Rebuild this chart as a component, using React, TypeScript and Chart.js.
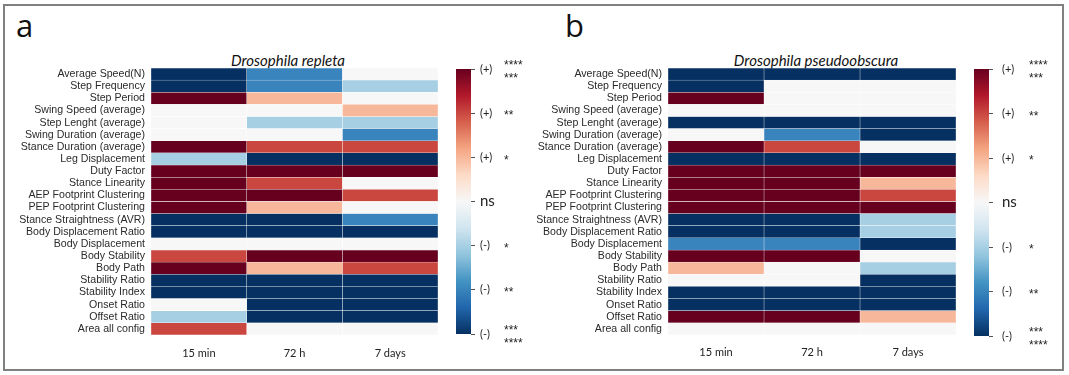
import React, { useEffect, useRef } from 'react';
import { Chart, registerables } from 'chart.js';

Chart.register(...registerables);

// ---------- data ----------
const rowLabels = [
  'Average Speed(N)', 'Step Frequency', 'Step Period', 'Swing Speed (average)',
  'Step Lenght (average)', 'Swing Duration (average)', 'Stance Duration (average)',
  'Leg Displacement', 'Duty Factor', 'Stance Linearity', 'AEP Footprint Clustering',
  'PEP Footprint Clustering', 'Stance Straightness (AVR)', 'Body Displacement Ratio',
  'Body Displacement', 'Body Stability', 'Body Path', 'Stability Ratio',
  'Stability Index', 'Onset Ratio', 'Offset Ratio', 'Area all config',
];
const timeLabels = ['15 min', '72 h', '7 days'];

// significance level: +3 = (+)***/****, +2 = (+)**, +1 = (+)*, 0 = ns, -1..-3 = (-)
const repleta15min = [-3, -3, 3, 0, 0, 0, 3, -1, 3, 3, 3, 3, -3, -3, 0, 2, 3, -3, -3, 0, -1, 2];
const repleta72h = [-2, -2, 1, 0, -1, 0, 2, -3, 3, 2, 3, 1, -3, -3, 0, 3, 1, -3, -3, -3, -3, 0];
const repleta7days = [0, -1, 0, 1, -1, -2, 2, -3, 3, 0, 2, 0, -2, -3, 0, 3, 2, -3, -3, -3, -3, 0];

const pseudo15min = [-3, -3, 3, 0, -3, 0, 3, -3, 3, 3, 3, 3, -3, -3, -2, 3, 1, 0, -3, -3, 3, 0];
const pseudo72h = [-3, 0, 0, 0, -3, -2, 2, -3, 3, 3, 3, 3, -3, -3, -2, 3, 0, 0, -3, -3, 3, 0];
const pseudo7days = [-3, 0, 0, 0, -3, -3, 0, -3, 3, 1, 2, 3, -1, -1, -3, 0, -1, -3, -3, -3, 1, 0];

const levelValues = [-3, -2, -1, 0, 1, 2, 3];
const levelLabels = ['(-)', '(-)', '(-)', 'ns', '(+)', '(+)', '(+)'];
const levelStars: (string | string[])[] = [['***', '****'], '**', '*', '', '*', '**', ['****', '***']];

const titleRepleta = 'Drosophila repleta';
const titlePseudo = 'Drosophila pseudoobscura';

// ---------- styles ----------
const levelColors = ['#053061', '#3a84bd', '#a7cfe4', '#f7f7f7', '#f7b79a', '#c9473f', '#67001f'];
const gradientStops = ['#053061', '#2166ac', '#4393c3', '#92c5de', '#d1e5f0', '#f7f7f7', '#fddbc7', '#f4a582', '#d6604d', '#b2182b', '#67001f'];
const colorFor = (v: number) => levelColors[levelValues.indexOf(v)];

const SANS = "'Liberation Sans', Arial, sans-serif";
const HUMAN = "Lato, 'Open Sans', sans-serif";

type HeatProps = {
  left: number; top: number; width: number; height: number;
  columns: number[][];
  areaLeft: number; areaRight: number; areaTop: number; areaBottom: number;
  xPad: number;
};

function Heatmap(p: HeatProps) {
  const ref = useRef<HTMLCanvasElement>(null);
  useEffect(() => {
    const chart = new Chart(ref.current!, {
      type: 'bar',
      data: {
        labels: rowLabels,
        datasets: p.columns.map((vals, i) => ({
          label: timeLabels[i],
          data: vals.map(() => 1),
          backgroundColor: vals.map(colorFor),
          borderColor: 'rgba(255,255,255,0.55)',
          borderWidth: 0.5,
          borderSkipped: false,
          barPercentage: 1,
          categoryPercentage: 1,
        })),
      },
      options: {
        indexAxis: 'y',
        animation: false,
        responsive: false,
        events: [],
        layout: { padding: { left: 0, right: p.width - p.areaRight, top: p.areaTop, bottom: 0 } },
        plugins: { legend: { display: false }, tooltip: { enabled: false } },
        scales: {
          y: {
            type: 'category',
            stacked: true,
            grid: { display: false, drawTicks: false },
            border: { display: false },
            ticks: {
              autoSkip: false,
              padding: 6,
              color: '#2a2a2a',
              font: { family: SANS, size: 10.6 },
            },
            afterFit: (s: any) => { s.width = p.areaLeft; },
          },
          x: {
            type: 'linear',
            stacked: true,
            min: 0,
            max: timeLabels.length,
            grid: { display: false, drawTicks: false },
            border: { display: false },
            afterBuildTicks: (s: any) => { s.ticks = timeLabels.map((_, i) => ({ value: i + 0.5 })); },
            ticks: {
              padding: p.xPad,
              color: '#222',
              font: { family: HUMAN, size: 11 },
              callback: (_v: any, i: number) => timeLabels[i],
            },
            afterFit: (s: any) => { s.height = p.height - p.areaBottom; },
          },
        },
      } as any,
    });
    return () => chart.destroy();
  }, []);
  return (
    <canvas ref={ref} width={p.width} height={p.height}
      style={{ position: 'absolute', left: p.left, top: p.top, width: p.width, height: p.height }} />
  );
}

type BarProps = {
  left: number; top: number; width: number; height: number;
  barLeft: number; barRight: number; barTop: number; barBottom: number;
  labelAxisWidth: number; labelPad: number; starPad: number;
};

function Colorbar(p: BarProps) {
  const ref = useRef<HTMLCanvasElement>(null);
  useEffect(() => {
    const lo = levelValues[0];
    const hi = levelValues[levelValues.length - 1];
    const chart = new Chart(ref.current!, {
      type: 'bar',
      data: {
        labels: ['scale'],
        datasets: [{
          data: [[lo, hi]],
          backgroundColor: (ctx: any) => {
            const area = ctx.chart.chartArea;
            if (!area) return 'transparent';
            const g = ctx.chart.ctx.createLinearGradient(0, area.bottom, 0, area.top);
            gradientStops.forEach((c, i) => g.addColorStop(i / (gradientStops.length - 1), c));
            return g;
          },
          borderWidth: 0,
          barPercentage: 1,
          categoryPercentage: 1,
          yAxisID: 'y',
        }],
      },
      options: {
        animation: false,
        responsive: false,
        events: [],
        layout: { padding: { left: p.barLeft, right: 0, top: p.barTop, bottom: p.height - p.barBottom } },
        plugins: { legend: { display: false }, tooltip: { enabled: false } },
        scales: {
          x: { type: 'category', display: false },
          y: {
            type: 'linear',
            position: 'right',
            weight: 0,
            min: lo,
            max: hi,
            afterBuildTicks: (s: any) => { s.ticks = levelValues.map((v) => ({ value: v })); },
            grid: { drawOnChartArea: false, drawTicks: true, tickLength: 4, color: '#555', lineWidth: 1 },
            border: { display: false },
            ticks: {
              padding: p.labelPad,
              color: '#222',
              font: (ctx: any) => (ctx.tick && ctx.tick.value === 0
                ? { family: HUMAN, size: 15 }
                : { family: HUMAN, size: 11 }),
              callback: (_v: any, i: number) => levelLabels[i],
            },
            afterFit: (s: any) => { s.width = p.labelAxisWidth; },
          },
          stars: {
            type: 'linear',
            position: 'right',
            weight: 1,
            min: lo,
            max: hi,
            afterBuildTicks: (s: any) => { s.ticks = levelValues.map((v) => ({ value: v })); },
            grid: { display: false, drawTicks: false },
            border: { display: false },
            ticks: {
              padding: p.starPad,
              labelOffset: 3,
              color: '#222',
              font: { family: SANS, size: 12, lineHeight: 1.1 },
              callback: (_v: any, i: number) => levelStars[i],
            },
            afterFit: (s: any) => { s.width = p.width - p.barRight - p.labelAxisWidth; },
          },
        },
      } as any,
    });
    return () => chart.destroy();
  }, []);
  return (
    <canvas ref={ref} width={p.width} height={p.height}
      style={{ position: 'absolute', left: p.left, top: p.top, width: p.width, height: p.height }} />
  );
}

const titleStyle = (center: number): React.CSSProperties => ({
  position: 'absolute', left: center - 150, width: 300, top: 50, height: 20,
  lineHeight: '20px', textAlign: 'center', fontFamily: HUMAN, fontStyle: 'italic',
  fontSize: 15, color: '#111', whiteSpace: 'nowrap',
});

const letterStyle = (left: number): React.CSSProperties => ({
  position: 'absolute', left, top: 10, lineHeight: '30px', fontFamily: "'Open Sans', sans-serif",
  fontSize: 31, color: '#111',
});

export default function App() {
  return (
    <div style={{ position: 'absolute', left: 0, top: 0, width: 1069, height: 375, background: '#fff', overflow: 'hidden' }}>
      <div style={{ position: 'absolute', left: 3, top: 4, width: 1061, height: 367, border: '2px solid #808080', boxSizing: 'border-box' }} />
      <div style={letterStyle(16)}>a</div>
      <div style={letterStyle(565)}>b</div>
      <div style={titleStyle(288)}>{titleRepleta}</div>
      <div style={titleStyle(816)}>{titlePseudo}</div>
      <Heatmap left={0} top={40} width={450} height={330}
        columns={[repleta15min, repleta72h, repleta7days]}
        areaLeft={151} areaRight={438} areaTop={28} areaBottom={295} xPad={12} />
      <Heatmap left={530} top={40} width={440} height={330}
        columns={[pseudo15min, pseudo72h, pseudo7days]}
        areaLeft={138} areaRight={426} areaTop={28} areaBottom={295} xPad={11} />
      <Colorbar left={440} top={40} width={100} height={330}
        barLeft={16} barRight={31} barTop={29} barBottom={294}
        labelAxisWidth={30} labelPad={5} starPad={3} />
      <Colorbar left={958} top={40} width={102} height={330}
        barLeft={16} barRight={31} barTop={29} barBottom={296}
        labelAxisWidth={36} labelPad={9} starPad={4} />
    </div>
  );
}
